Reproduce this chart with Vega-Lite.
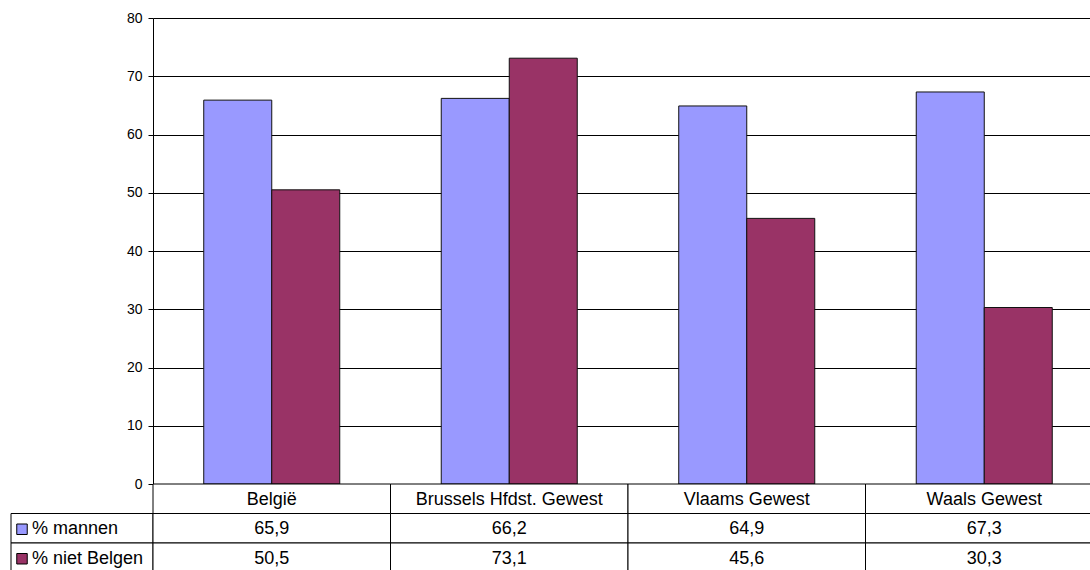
{
  "$schema": "https://vega.github.io/schema/vega-lite/v6.json",
  "padding": {"left": 10, "top": 11, "right": 0, "bottom": 0},
  "columns": 2,
  "spacing": 0,
  "bounds": "flush",
  "datasets": {
    "bars": [
      {"regio": "België", "reeks": "% mannen", "waarde": 65.9},
      {"regio": "België", "reeks": "% niet Belgen", "waarde": 50.5},
      {"regio": "Brussels Hfdst. Gewest", "reeks": "% mannen", "waarde": 66.2},
      {"regio": "Brussels Hfdst. Gewest", "reeks": "% niet Belgen", "waarde": 73.1},
      {"regio": "Vlaams Gewest", "reeks": "% mannen", "waarde": 64.9},
      {"regio": "Vlaams Gewest", "reeks": "% niet Belgen", "waarde": 45.6},
      {"regio": "Waals Gewest", "reeks": "% mannen", "waarde": 67.3},
      {"regio": "Waals Gewest", "reeks": "% niet Belgen", "waarde": 30.3}
    ],
    "reeksen": [{"reeks": "% mannen"}, {"reeks": "% niet Belgen"}]
  },
  "concat": [
    {
      "width": 142,
      "height": 466,
      "data": {"name": "reeksen"},
      "mark": {"type": "text", "text": ""}
    },
    {
      "width": 950,
      "height": 466,
      "data": {"name": "bars"},
      "mark": {"type": "bar", "stroke": "#111", "strokeWidth": 1},
      "encoding": {
        "x": {
          "field": "regio", "type": "nominal", "sort": null,
          "scale": {"domain": ["België", "Brussels Hfdst. Gewest", "Vlaams Gewest", "Waals Gewest"], "paddingInner": 0, "paddingOuter": 0},
          "axis": null
        },
        "xOffset": {
          "field": "reeks", "type": "nominal",
          "scale": {"domain": ["% mannen", "% niet Belgen"], "paddingInner": 0, "paddingOuter": 0.746}
        },
        "y": {
          "field": "waarde", "type": "quantitative",
          "scale": {"domain": [0, 80], "nice": false},
          "axis": {
            "values": [0, 10, 20, 30, 40, 50, 60, 70, 80],
            "title": null,
            "grid": true, "gridColor": "#000", "gridOpacity": 1, "gridWidth": 1,
            "domainColor": "#000", "tickColor": "#000", "tickSize": 5,
            "labelPadding": 6, "labelFontSize": 14, "labelColor": "#000"
          }
        },
        "color": {
          "field": "reeks", "type": "nominal",
          "scale": {"domain": ["% mannen", "% niet Belgen"], "range": ["#9999ff", "#993366"]},
          "legend": null
        }
      }
    },
    {
      "width": 142,
      "height": 88.5,
      "data": {"name": "reeksen"},
      "layer": [
        {
          "mark": {"type": "rect", "fill": "white", "stroke": "#000", "strokeWidth": 1},
          "encoding": {
            "y": {"field": "reeks", "type": "nominal", "scale": {"type": "band", "domain": ["kop", "% mannen", "% niet Belgen"], "paddingInner": 0, "paddingOuter": 0}, "axis": null}
          }
        },
        {
          "mark": {"type": "point", "shape": "square", "filled": true, "size": 110, "stroke": "#000", "strokeWidth": 1, "opacity": 1, "xOffset": 11, "yOffset": 1},
          "encoding": {
            "x": {"datum": "sleutel", "type": "nominal", "scale": {"type": "band", "paddingInner": 0, "paddingOuter": 0}, "bandPosition": 0, "axis": null},
            "y": {"field": "reeks", "type": "nominal", "axis": null},
            "color": {"field": "reeks", "type": "nominal", "legend": null}
          }
        },
        {
          "mark": {"type": "text", "align": "left", "dx": 21, "dy": 1, "fontSize": 18, "color": "#000"},
          "encoding": {
            "x": {"datum": "sleutel", "type": "nominal", "bandPosition": 0, "axis": null},
            "y": {"field": "reeks", "type": "nominal", "axis": null},
            "text": {"field": "reeks"}
          }
        }
      ]
    },
    {
      "width": 950,
      "height": 88.5,
      "data": {"name": "bars"},
      "layer": [
        {
          "transform": [{"filter": "datum.reeks === '% mannen'"}],
          "mark": {"type": "rect", "fill": "white", "stroke": "#000", "strokeWidth": 1},
          "encoding": {
            "x": {"field": "regio", "type": "nominal", "sort": null, "scale": {"type": "band", "domain": ["België", "Brussels Hfdst. Gewest", "Vlaams Gewest", "Waals Gewest"], "paddingInner": 0, "paddingOuter": 0}, "axis": null},
            "y": {"datum": "kop", "type": "nominal", "scale": {"type": "band", "domain": ["kop", "% mannen", "% niet Belgen"], "paddingInner": 0, "paddingOuter": 0}, "axis": null}
          }
        },
        {
          "mark": {"type": "rect", "fill": "white", "stroke": "#000", "strokeWidth": 1},
          "encoding": {
            "x": {"field": "regio", "type": "nominal", "axis": null},
            "y": {"field": "reeks", "type": "nominal", "axis": null}
          }
        },
        {
          "transform": [{"filter": "datum.reeks === '% mannen'"}],
          "mark": {"type": "text", "fontSize": 18, "dy": 1, "color": "#000"},
          "encoding": {
            "x": {"field": "regio", "type": "nominal", "axis": null},
            "y": {"datum": "kop", "type": "nominal", "axis": null},
            "text": {"field": "regio"}
          }
        },
        {
          "mark": {"type": "text", "fontSize": 18, "dy": 1, "color": "#000"},
          "encoding": {
            "x": {"field": "regio", "type": "nominal", "axis": null},
            "y": {"field": "reeks", "type": "nominal", "axis": null},
            "text": {"field": "waarde", "type": "quantitative", "format": ".1f"}
          }
        }
      ]
    }
  ],
  "config": {
    "font": "Liberation Sans",
    "view": {"stroke": null},
    "axis": {"labelFont": "Liberation Sans"},
    "text": {"font": "Liberation Sans"},
    "locale": {
      "number": {"decimal": ",", "thousands": ".", "grouping": [3], "currency": ["", " €"]}
    }
  }
}
